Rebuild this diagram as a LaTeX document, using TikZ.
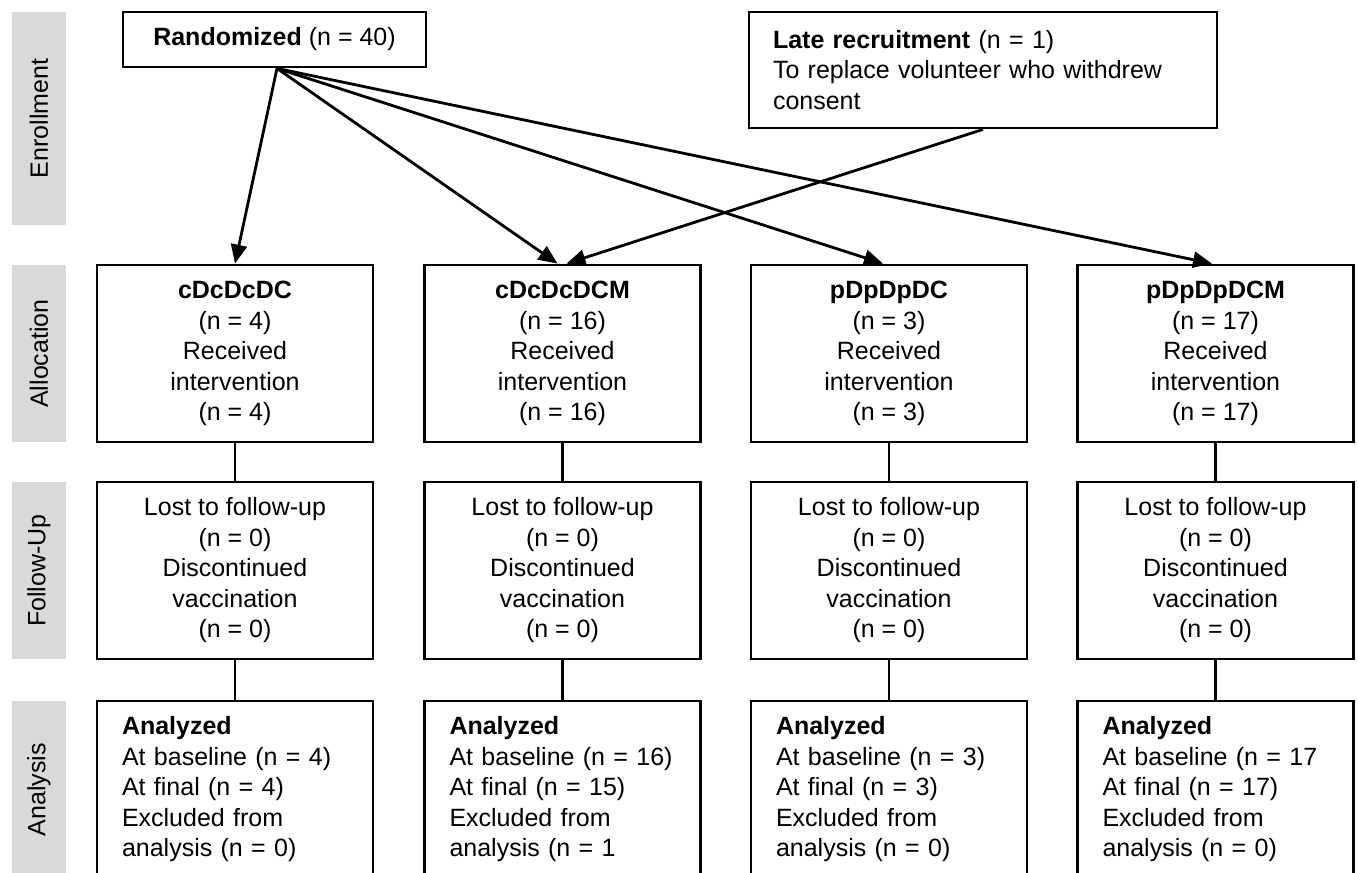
\documentclass[tikz,border=0pt]{standalone}
\usepackage{fontspec}
\setmainfont{Liberation Sans}
\usetikzlibrary{arrows.meta,calc}
\definecolor{sidegray}{HTML}{D9D9D9}
\begin{document}
\begin{tikzpicture}[x=1pt,y=-1pt,
  every node/.style={font=\fontsize{25}{30.5}\selectfont},
  box/.style={draw=black,line width=2.8pt,fill=white,minimum width=276pt,minimum height=177pt,align=center,inner sep=4pt},
  abox/.style={box,align=left,text width=226pt},
  side/.style={fill=sidegray,rotate=90,minimum height=54pt,inner sep=0pt},
  arr/.style={line width=2.8pt,-{Triangle[length=19pt,width=16pt]}},
  conn/.style={line width=2.8pt}]
\clip (0,0) rectangle (1358,873);
\fill[white] (0,0) rectangle (1358,873);

% side labels
\node[side,minimum width=213pt] (sEnr) at (39,118.5) {Enrollment};
\node[side,minimum width=177pt] (sAll) at (39,353.5) {Allocation};
\node[side,minimum width=177pt] (sFol) at (39,570.5) {Follow-Up};
\node[side,minimum width=177pt] (sAna) at (39,789.5) {Analysis};

% enrollment
\node[draw=black,line width=2.8pt,minimum width=303pt,minimum height=55pt,inner sep=0pt] (rand) at (274.5,39.5) {\textbf{Randomized} (n = 40)};
\node[draw=black,line width=2.8pt,minimum width=468pt,minimum height=116pt,text width=420pt,align=left,inner sep=0pt] (late) at (983,70) {\textbf{Late recruitment} (n = 1)\\To replace volunteer who withdrew\\consent};

% allocation
\node[box] (a1) at (235,353.5) {\textbf{cDcDcDC}\\(n = 4)\\Received\\intervention\\(n = 4)};
\node[box] (a2) at (562.5,353.5) {\textbf{cDcDcDCM}\\(n = 16)\\Received\\intervention\\(n = 16)};
\node[box] (a3) at (889,353.5) {\textbf{pDpDpDC}\\(n = 3)\\Received\\intervention\\(n = 3)};
\node[box] (a4) at (1215.5,353.5) {\textbf{pDpDpDCM}\\(n = 17)\\Received\\intervention\\(n = 17)};

% follow-up
\node[box] (f1) at (235,570.5) {Lost to follow-up\\(n = 0)\\Discontinued\\vaccination\\(n = 0)};
\node[box] (f2) at (562.5,570.5) {Lost to follow-up\\(n = 0)\\Discontinued\\vaccination\\(n = 0)};
\node[box] (f3) at (889,570.5) {Lost to follow-up\\(n = 0)\\Discontinued\\vaccination\\(n = 0)};
\node[box] (f4) at (1215.5,570.5) {Lost to follow-up\\(n = 0)\\Discontinued\\vaccination\\(n = 0)};

% analysis
\node[abox] (n1) at (235,789.5) {\textbf{Analyzed}\\At baseline (n = 4)\\At final (n = 4)\\Excluded from\\analysis (n = 0)};
\node[abox] (n2) at (562.5,789.5) {\textbf{Analyzed}\\\mbox{At baseline (n = 16)}\\At final (n = 15)\\Excluded from\\analysis (n = 1};
\node[abox] (n3) at (889,789.5) {\textbf{Analyzed}\\At baseline (n = 3)\\At final (n = 3)\\Excluded from\\analysis (n = 0)};
\node[abox] (n4) at (1215.5,789.5) {\textbf{Analyzed}\\At baseline (n = 17\\At final (n = 17)\\Excluded from\\analysis (n = 0)};

% vertical connectors
\foreach \i in {1,2,3,4}{
  \draw[conn] (a\i.south) -- (f\i.north);
  \draw[conn] (f\i.south) -- (n\i.north);
}

% arrows
\draw[arr] ($(rand.south)+(2.5,0)$) -- (a1.north);
\draw[arr] ($(rand.south)+(2.5,0)$) -- ($(a2.north)+(-5,0)$);
\draw[arr] ($(rand.south)+(2.5,0)$) -- ($(a3.north)+(-6,0)$);
\draw[arr] ($(rand.south)+(2.5,0)$) -- ($(a4.north)+(-3.5,0)$);
\draw[arr] (late.south) -- ($(a2.north)+(4,0)$);
\end{tikzpicture}
\end{document}
